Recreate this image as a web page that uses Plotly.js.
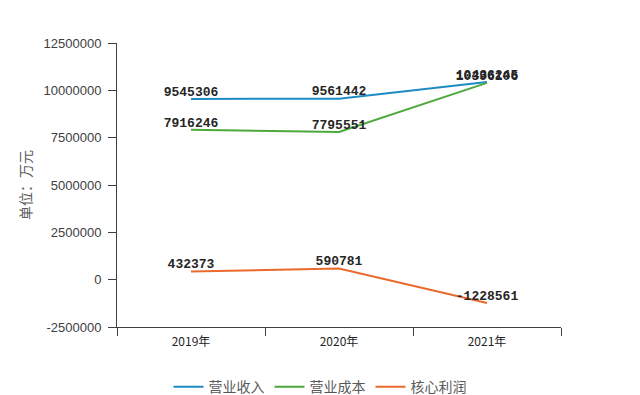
<!DOCTYPE html>
<html><head><meta charset="utf-8">
<script src="https://cdn.plot.ly/plotly-3.0.1.min.js"></script>
<style>body{margin:0;background:#fff}#c{width:640px;height:395px}</style>
</head><body><div id="c"></div>
<script>
const categories = ["2019年", "2020年", "2021年"];
const revenue = [9545306, 9561442, 10436245];
const cost = [7916246, 7795551, 10396106];
const coreProfit = [432373, 590781, -1228561];
const seriesNames = ["营业收入", "营业成本", "核心利润"];
const yTicks = [-2500000, 0, 2500000, 5000000, 7500000, 10000000, 12500000];

const colors = ["#1f8bc4", "#4ca93c", "#ea6a2c"];
const labelFont = {family: "Liberation Mono, DejaVu Sans Mono, monospace", size: 13, color: "#262626", weight: "bold"};
function tr(y, i) {
  return {
    x: categories, y: y, name: seriesNames[i], type: "scatter", mode: "lines+text",
    line: {color: colors[i], width: 2},
    text: y.map(v => String(v)), textposition: "top center",
    textfont: labelFont, cliponaxis: false
  };
}
const data = [tr(revenue, 0), tr(cost, 1), tr(coreProfit, 2)];
const layout = {
  width: 640, height: 395,
  margin: {l: 117, r: 79, t: 43, b: 68, autoexpand: false},
  paper_bgcolor: "#fff", plot_bgcolor: "#fff",
  font: {family: "Liberation Sans, Arial, sans-serif", color: "#404040"},
  showlegend: true,
  legend: {orientation: "h", x: 0.5, xanchor: "center", xref: "container",
           y: 0.02, yanchor: "middle", yref: "container",
           font: {family: "Noto Sans CJK SC, sans-serif", size: 14, color: "#595959"}, itemwidth: 30},
  xaxis: {
    type: "category", range: [-0.5, 2.5], showgrid: false, zeroline: false,
    showline: true, linecolor: "#404040", linewidth: 1,
    ticks: "outside", tickson: "boundaries", ticklen: 8, tickcolor: "#404040",
    ticklabelstandoff: 4,
    tickfont: {family: "Noto Sans CJK SC, sans-serif", size: 12, color: "#262626"}
  },
  yaxis: {
    range: [-2500000, 12500000], tickvals: yTicks, ticktext: yTicks.map(String),
    showgrid: false, zeroline: false, showline: true, linecolor: "#404040", linewidth: 1,
    ticks: "outside", ticklen: 8, tickcolor: "#404040", ticklabelstandoff: 4,
    tickfont: {size: 13, color: "#404040"},
    title: {text: "单位：万元", font: {family: "Noto Sans CJK SC, sans-serif", size: 14, color: "#595959"}, standoff: 8}
  }
};
Plotly.newPlot("c", data, layout, {displayModeBar: false, staticPlot: true});
</script></body></html>
